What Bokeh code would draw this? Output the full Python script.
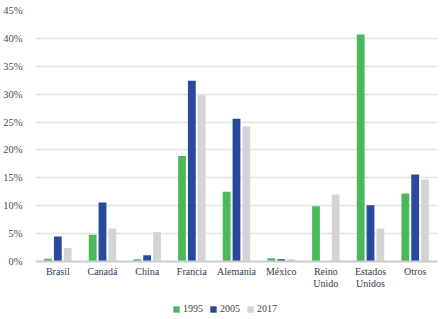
from bokeh.plotting import figure
from bokeh.models import FactorRange, Range1d, Legend, LegendItem, ColumnDataSource, NumeralTickFormatter, FixedTicker
from bokeh.transform import dodge
from bokeh.layouts import column
from bokeh.embed import file_html
from bokeh.resources import INLINE

categories = ["Brasil", "Canadá", "China", "Francia", "Alemania", "México", "Reino\nUnido", "Estados\nUnidos", "Otros"]
v1995 = [0.5, 4.8, 0.4, 18.9, 12.5, 0.6, 9.9, 40.7, 12.2]
v2005 = [4.5, 10.6, 1.1, 32.4, 25.6, 0.4, 0.0, 10.1, 15.6]
v2017 = [2.4, 5.9, 5.3, 29.8, 24.2, 0.4, 12.0, 5.9, 14.7]
series = ["1995", "2005", "2017"]
colors = ["#4cb85c", "#294a9c", "#d3d4d4"]
yticks = [0, 5, 10, 15, 20, 25, 30, 35, 40, 45]

src = ColumnDataSource(data=dict(cat=categories,
                                 s1995=[v / 100 for v in v1995],
                                 s2005=[v / 100 for v in v2005],
                                 s2017=[v / 100 for v in v2017]))

FONT = "Liberation Serif"

p = figure(width=445, height=296, x_range=FactorRange(*categories),
           y_range=Range1d(0, 0.45), output_backend="svg", toolbar_location=None,
           min_border_left=35, min_border_right=8, min_border_top=10, min_border_bottom=35)
p.outline_line_color = None
p.background_fill_color = "white"
p.border_fill_color = "white"

offsets = [-0.22, 0.0, 0.22]
for name, col, off in zip(series, colors, offsets):
    p.vbar(x=dodge("cat", off, range=p.x_range), top="s" + name, width=0.175,
           source=src, fill_color=col, line_color=None)

p.xgrid.grid_line_color = None
p.ygrid.grid_line_color = "#e3e3e3"
p.ygrid.grid_line_width = 1.5

p.yaxis.ticker = FixedTicker(ticks=[t / 100 for t in yticks])
p.yaxis.formatter = NumeralTickFormatter(format="0%")
p.yaxis.axis_line_color = None
p.yaxis.major_tick_line_color = None
p.yaxis.minor_tick_line_color = None
p.yaxis.major_label_text_font = FONT
p.yaxis.major_label_text_font_size = "10.5px"
p.yaxis.major_label_text_color = "#3b4a6b"
p.yaxis.major_label_standoff = 7

p.xaxis.axis_line_color = "#cccccc"
p.xaxis.axis_line_width = 2
p.xaxis.major_tick_line_color = None
p.xaxis.minor_tick_line_color = None
p.xaxis.major_tick_out = 0
p.xaxis.major_tick_in = 0
p.xaxis.major_label_text_font = FONT
p.xaxis.major_label_text_font_size = "10px"
p.xaxis.major_label_text_line_height = 1.1
p.xaxis.major_label_text_color = "#333a4d"
p.xaxis.major_label_standoff = 4

# legend strip below the chart (legend proxies carry no visible data)
lg = figure(width=445, height=23, x_range=Range1d(0, 1), y_range=Range1d(0, 1),
            output_backend="svg", toolbar_location=None,
            x_axis_location=None, y_axis_location=None,
            min_border_left=0, min_border_right=0, min_border_top=0, min_border_bottom=0)
lg.grid.visible = False
lg.outline_line_color = None
nan = float("nan")
proxies = []
for name, col in zip(series, colors):
    proxies.append(lg.vbar(x=[nan], top=[nan], width=0.1, fill_color=col, line_color=None))

legend = Legend(items=[LegendItem(label=n, renderers=[r]) for n, r in zip(series, proxies)],
                orientation="horizontal", location=(137, 5),
                label_text_font=FONT, label_text_font_size="10px", label_text_color="#444444",
                glyph_width=8, glyph_height=8, spacing=6, label_standoff=3, label_height=10,
                border_line_color=None, background_fill_alpha=0, padding=2, margin=0)
lg.add_layout(legend, "center")

layout = column(p, lg, spacing=0)
open("out.html", "w").write(file_html(layout, INLINE))
